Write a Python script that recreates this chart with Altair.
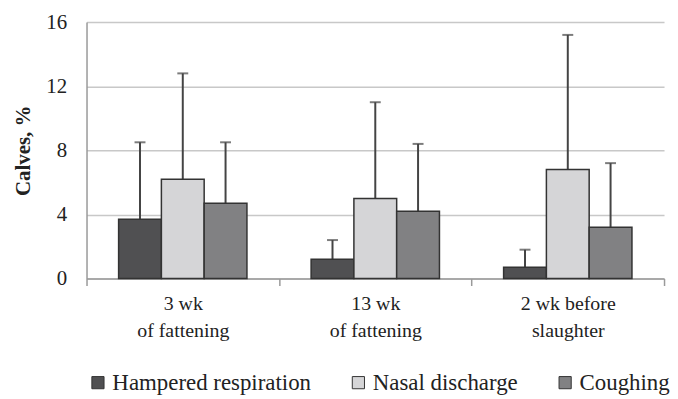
import altair as alt
import pandas as pd

periods = ["3 wk|of fattening", "13 wk|of fattening", "2 wk before|slaughter"]
signs = ["Hampered respiration", "Nasal discharge", "Coughing"]
hampered = [3.7, 1.2, 0.7]
hampered_upper = [8.5, 2.4, 1.8]
nasal = [6.2, 5.0, 6.8]
nasal_upper = [12.8, 11.0, 15.2]
coughing = [4.7, 4.2, 3.2]
coughing_upper = [8.5, 8.4, 7.2]
colors = ["#505052", "#d5d5d7", "#818183"]
y_ticks = [0, 4, 8, 12, 16]

rows = []
for s, vals, ups in zip(signs, [hampered, nasal, coughing], [hampered_upper, nasal_upper, coughing_upper]):
    for p, v, u in zip(periods, vals, ups):
        rows.append({"period": p, "sign": s, "value": v, "upper": u})
df = pd.DataFrame(rows)

FONT = "Liberation Serif"

x_enc = alt.X(
    "period:N", sort=periods,
    scale=alt.Scale(paddingInner=0, paddingOuter=0),
    axis=alt.Axis(title=None, tickBand="extent", labelExpr="split(datum.label, '|')",
                  labelFontSize=20, labelColor="#222", labelAngle=0,
                  labelPadding=8, labelLineHeight=27, domainColor="#9a9a9a", domainWidth=1.5,
                  tickColor="#9a9a9a", tickWidth=1.5, tickSize=7, grid=False),
)
xo_enc = alt.XOffset("sign:N", sort=signs, scale=alt.Scale(paddingInner=0, paddingOuter=0.75))

y_enc = alt.Y("value:Q", scale=alt.Scale(domain=[0, 16], nice=False),
              axis=alt.Axis(values=y_ticks, title="Calves, %", titleFontSize=21,
                            titleFontWeight="bold", titleColor="#222", titlePadding=12,
                            labelFontSize=21, labelColor="#222", labelPadding=20,
                            tickSize=0, domainColor="#9a9a9a", domainWidth=1.5,
                            gridColor="#c8c8c8", gridWidth=1.5))

base = alt.Chart(df)

bars = base.mark_bar(stroke="#333333", strokeWidth=1.5).encode(
    x=x_enc, xOffset=xo_enc, y=y_enc,
    color=alt.Color("sign:N", sort=signs, scale=alt.Scale(domain=signs, range=colors),
                    legend=alt.Legend(title=None, orient="bottom", direction="horizontal",
                                      symbolType="square", symbolSize=150, symbolStrokeColor="#333",
                                      symbolStrokeWidth=1, labelFontSize=23,
                                      labelColor="#222", columnPadding=36, labelOffset=3,
                                      labelLimit=0, offset=31)),
)

rules = base.mark_rule(color="#444444", strokeWidth=2).encode(
    x=x_enc, xOffset=xo_enc, y=y_enc, y2="upper:Q"
)
caps = base.mark_tick(color="#444444", thickness=2, size=11, orient="horizontal").encode(
    x=x_enc, xOffset=xo_enc, y=alt.Y("upper:Q")
)

chart = alt.layer(rules, bars, caps).properties(
    width=581, height=258, padding={"left": 5, "top": 2, "right": 0, "bottom": 0}
).configure(font=FONT).configure_axis(labelFont=FONT, titleFont=FONT).configure_legend(
    labelFont=FONT
).configure_view(stroke=None)

chart.save("out.html", embed_options={"renderer": "svg", "actions": False})
